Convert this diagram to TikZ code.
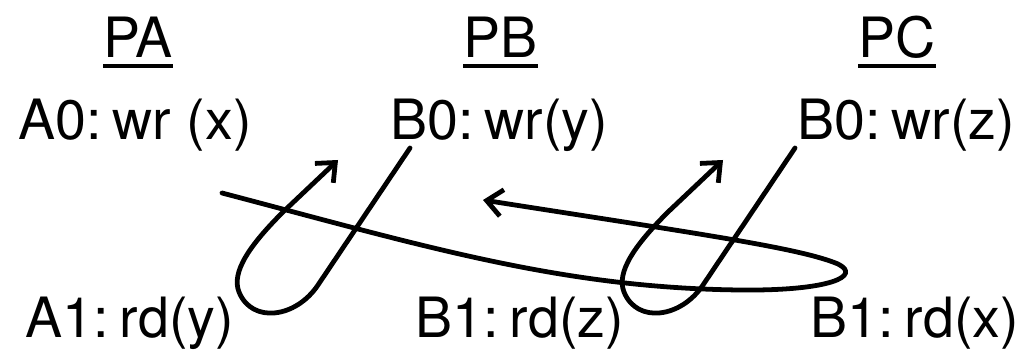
\documentclass[tikz,border=0pt]{standalone}
\usepackage{fontspec}
\setmainfont{TeX Gyre Heros}
\usetikzlibrary{arrows.meta}
\tikzset{
  lbl/.style={inner sep=0pt, anchor=base west, font=\fontsize{39.5}{41}\selectfont},
  conn/.style={line width=3.4pt, line cap=round, line join=round},
  arr/.style={conn, -{Straight Barb[length=11pt,width=19pt,line width=3.4pt]}},
  uline/.style={line width=2.8pt}
}
\begin{document}
\begin{tikzpicture}[x=0.025cm,y=-0.025cm]
\useasboundingbox (0,0) rectangle (1026,353);
% headers
\node[lbl] (pa) at (103,58) {PA};
\node[lbl] (pb) at (463,58) {PB};
\node[lbl] (pc) at (858,58) {PC};
\draw[uline] ([yshift=-6pt]pa.base west) -- ([yshift=-6pt]pa.base east);
\draw[uline] ([yshift=-6pt]pb.base west) -- ([yshift=-6pt]pb.base east);
\draw[uline] ([yshift=-6pt]pc.base west) -- ([yshift=-6pt]pc.base east);
% operations
\node[lbl] (a0) at (18,140) {A0:\hspace{0.2em}wr (x)};
\node[lbl] (b0y) at (390,140) {B0:\hspace{0.2em}wr(y)};
\node[lbl] (b0z) at (797,140) {B0:\hspace{0.2em}wr(z)};
\node[lbl] (a1) at (25,337) {A1:\hspace{0.2em}rd(y)};
\node[lbl] (b1z) at (415,337) {B1:\hspace{0.2em}rd(z)};
\node[lbl] (b1x) at (810,337) {B1:\hspace{0.2em}rd(x)};
% connector end points
\coordinate (s1) at (410,148);
\coordinate (e1) at (338,160);
\coordinate (s2) at (795,148);
\coordinate (e2) at (723,160);
\coordinate (s3) at (222,193);
\coordinate (e3) at (483,200);
% loop under PB
\draw[arr] (s1) -- (318,285) .. controls (296,318) and (252,324) .. (239,292)
  .. controls (231,272) and (250,245) .. (283,212) -- (e1);
% loop under PC
\draw[arr] (s2) -- (703,285) .. controls (681,318) and (637,324) .. (624,292)
  .. controls (616,272) and (635,245) .. (668,212) -- (e2);
% long curve
\draw[arr] (s3) .. controls (420,245) and (560,288) .. (740,290)
  .. controls (830,291) and (862,276) .. (838,264)
  .. controls (800,248) and (700,234) .. (e3);
\end{tikzpicture}
\end{document}
